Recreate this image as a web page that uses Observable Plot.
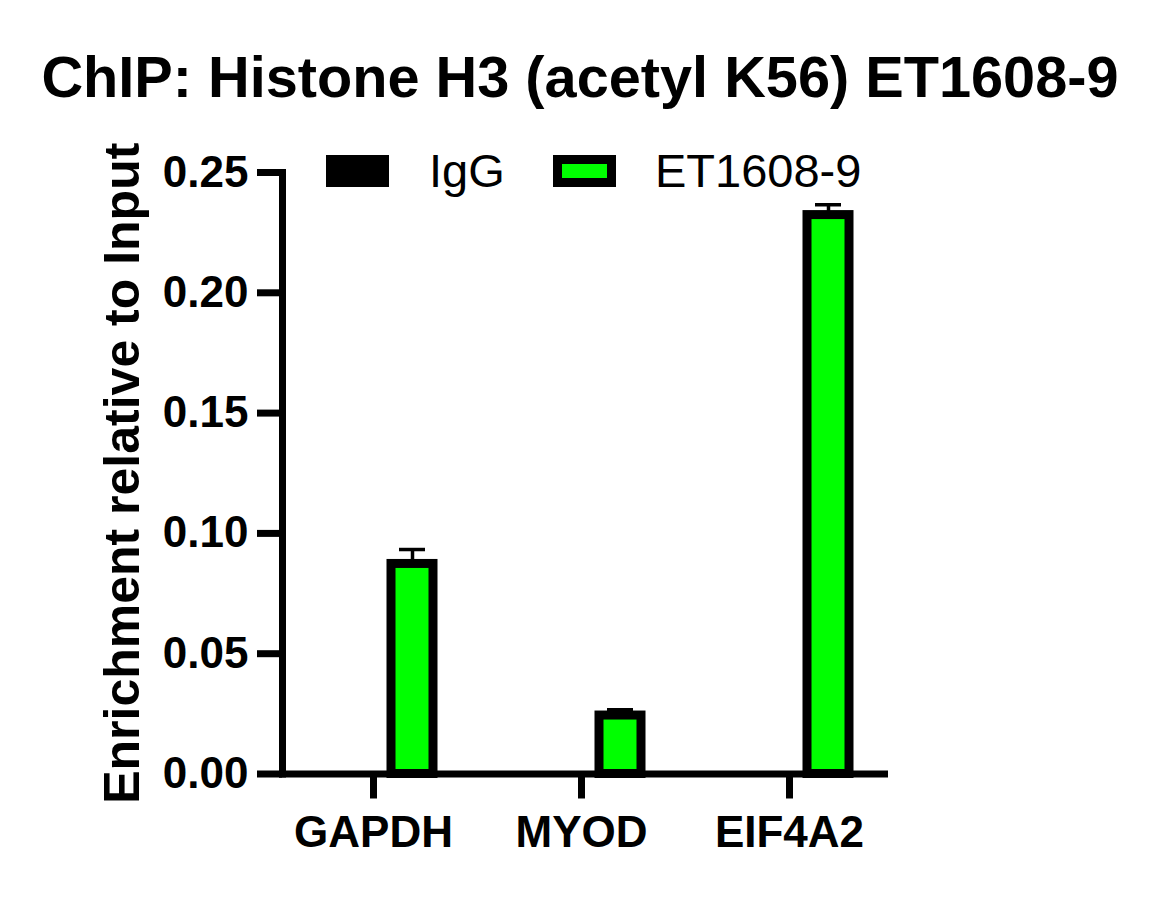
<!DOCTYPE html>
<html>
<head>
<meta charset="utf-8">
<script src="https://cdn.jsdelivr.net/npm/d3@7"></script>
<script src="https://cdn.jsdelivr.net/npm/@observablehq/plot@0.6"></script>
<style>
  html, body { margin: 0; padding: 0; background: #fff; }
  #wrap { position: relative; width: 1164px; height: 913px; font-family: "Liberation Sans", Arial, sans-serif; color: #000; }
  #title { position: absolute; left: 0; top: 48px; width: 1160px; text-align: center; font-size: 57.7px; line-height: 58px; font-weight: bold; white-space: nowrap; }
  .sw { position: absolute; top: 155px; width: 63px; height: 32px; box-sizing: border-box; }
  .lt { position: absolute; top: 147px; font-size: 47px; line-height: 47px; white-space: nowrap; }
  #chart { position: absolute; left: 0; top: 120px; }
</style>
</head>
<body>
<div id="wrap">
  <div id="title">ChIP: Histone H3 (acetyl K56) ET1608-9</div>
  <div id="chart"></div>
  <div id="legend"></div>
</div>
<script>
const title = "ChIP: Histone H3 (acetyl K56) ET1608-9";
const yLabel = "Enrichment relative to Input";
const categories = ["GAPDH", "MYOD", "EIF4A2"];
const series = ["IgG", "ET1608-9"];
const iggValues = [0, 0, 0];
const iggErrors = [0, 0, 0];
const etValues = [0.0873, 0.0243, 0.2323];
const etErrors = [0.006, 0.0024, 0.0043];
const yTicks = [0, 0.05, 0.10, 0.15, 0.20, 0.25];
const colors = {"IgG": "#000000", "ET1608-9": "#00ff00"};

const rows = [];
categories.forEach((c, i) => {
  rows.push({category: c, series: "IgG", value: iggValues[i], err: iggErrors[i]});
  rows.push({category: c, series: "ET1608-9", value: etValues[i], err: etErrors[i]});
});
const igg = rows.filter(d => d.series === "IgG");
const et = rows.filter(d => d.series === "ET1608-9");

const font = "'Liberation Sans', Arial, sans-serif";

const chart = Plot.plot({
  width: 1164,
  height: 793,
  marginTop: 52,
  marginBottom: 139.5,
  marginLeft: 282,
  marginRight: 280,
  style: {fontFamily: font, background: "transparent", overflow: "visible"},
  x: {domain: categories, range: [269, 893], padding: 0},
  y: {domain: [0, 0.25], nice: false},
  marks: [
    Plot.frame({anchor: "left", strokeWidth: 7, stroke: "black"}),
    Plot.frame({anchor: "bottom", strokeWidth: 7, stroke: "black"}),
    // error bars (upper only)
    Plot.ruleX(et, {x: "category", y1: "value", y2: d => d.value + d.err, dx: 39, stroke: "black", strokeWidth: 3.5}),
    Plot.tickY(et, {x: "category", y: d => d.value + d.err, insetLeft: 130, insetRight: 52, stroke: "black", strokeWidth: 3.5}),
    Plot.barY(igg, {x: "category", y: "value", fill: d => colors[d.series], stroke: "black", strokeWidth: 9, insetLeft: 44, insetRight: 122}),
    Plot.barY(et, {x: "category", y: "value", fill: d => colors[d.series], stroke: "black", strokeWidth: 9, insetLeft: 122, insetRight: 44}),
    Plot.axisY({ticks: yTicks, tickFormat: d3.format(".2f"), tickSize: 25, tickPadding: 9, strokeWidth: 7, fontSize: 44, fontWeight: "bold", label: null}),
    Plot.axisX({tickSize: 25, tickPadding: 17, strokeWidth: 7, fontSize: 44, fontWeight: "bold", label: null}),
    Plot.text([yLabel], {frameAnchor: "left", rotate: -90, dx: -144, lineAnchor: "bottom", textAnchor: "middle", fontSize: 50, fontWeight: "bold", fill: "black"})
  ]
});
document.getElementById("chart").appendChild(chart);

// legend
const legend = document.getElementById("legend");
const swLeft = [326, 553];
const txtLeft = [429, 655];
series.forEach((s, i) => {
  const sw = document.createElement("div");
  sw.className = "sw";
  sw.style.left = swLeft[i] + "px";
  sw.style.background = colors[s];
  sw.style.border = "9px solid #000";
  legend.appendChild(sw);
  const t = document.createElement("div");
  t.className = "lt";
  t.style.left = txtLeft[i] + "px";
  t.textContent = s;
  legend.appendChild(t);
});
document.getElementById("title").textContent = title;
</script>
</body>
</html>
